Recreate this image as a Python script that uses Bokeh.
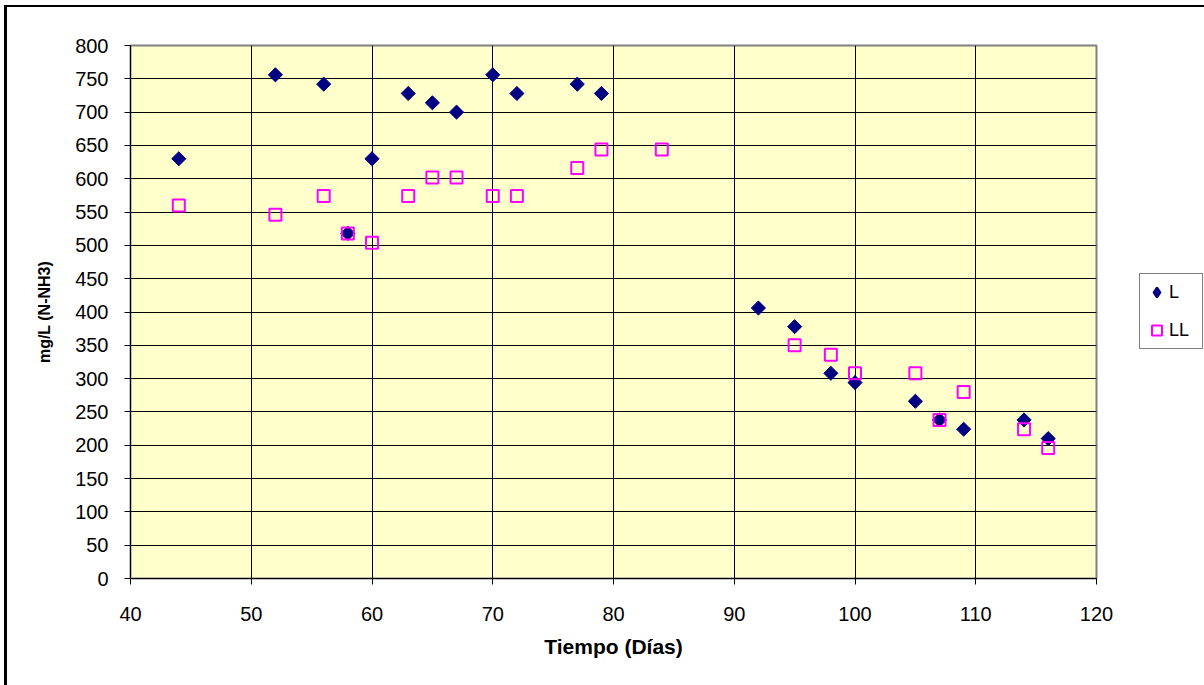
import numpy as np
from bokeh.plotting import figure
from bokeh.layouts import row
from bokeh.models import ColumnDataSource, FixedTicker, Range1d, Legend, LegendItem
from bokeh.embed import file_html
from bokeh.resources import INLINE

# ---- data ----
dias_L = [44, 52, 56, 58, 60, 63, 65, 67, 70, 72, 77, 79, 92, 95, 98, 100, 105, 107, 109, 114, 116]
nh3_L = [630, 756, 742, 518, 630, 728, 714, 700, 756, 728, 742, 728, 406, 378, 308, 294, 266, 238, 224, 238, 210]

dias_LL = [44, 52, 56, 58, 60, 63, 65, 67, 70, 72, 77, 79, 84, 95, 98, 100, 105, 107, 109, 114, 116]
nh3_LL = [560, 546, 574, 518, 504, 574, 602, 602, 574, 574, 616, 644, 644, 350, 336, 308, 308, 238, 280, 224, 196]

x_ticks = [40, 50, 60, 70, 80, 90, 100, 110, 120]
y_ticks = list(range(0, 801, 50))
x_title = "Tiempo (Días)"
y_title = "mg/L (N-NH3)"
series_names = ["L", "LL"]

FONT = "Liberation Sans"
NAVY = "#000080"
MAGENTA = "#FF00FF"

p = figure(width=1128, height=678, output_backend="svg", toolbar_location=None,
           x_range=Range1d(40, 120), y_range=Range1d(0, 800),
           min_border_left=123, min_border_right=39, min_border_top=38, min_border_bottom=107)
p.frame_width = 966
p.frame_height = 533

p.background_fill_color = "#FFFFCC"
p.border_fill_color = "white"
p.outline_line_color = "#808080"
p.outline_line_width = 2

for ax in (p.xaxis[0], p.yaxis[0]):
    ax.axis_line_color = "black"
    ax.axis_line_width = 1
    ax.major_tick_line_color = "black"
    ax.major_tick_in = 0
    ax.major_tick_out = 6
    ax.minor_tick_line_color = None
    ax.major_label_text_font = FONT
    ax.major_label_text_font_size = "20px"
    ax.major_label_text_color = "black"
    ax.axis_label_text_font = FONT
    ax.axis_label_text_font_style = "bold"
    ax.axis_label_text_color = "black"

p.xaxis[0].ticker = FixedTicker(ticks=x_ticks)
p.yaxis[0].ticker = FixedTicker(ticks=y_ticks)
p.xaxis[0].major_label_standoff = 22
p.yaxis[0].major_label_standoff = 16
p.xaxis[0].axis_label = x_title
p.xaxis[0].axis_label_text_font_size = "21px"
p.xaxis[0].axis_label_standoff = 11
p.yaxis[0].axis_label = y_title
p.yaxis[0].axis_label_text_font_size = "16px"
p.yaxis[0].axis_label_standoff = 19

p.xgrid.grid_line_color = "black"
p.xgrid.grid_line_width = 1
p.ygrid.grid_line_color = "black"
p.ygrid.grid_line_width = 1

src_L = ColumnDataSource(dict(x=dias_L, y=nh3_L))
src_LL = ColumnDataSource(dict(x=dias_LL, y=nh3_LL))

style_L = dict(marker="square", size=10, angle=np.pi / 4,
               fill_color=NAVY, line_color=NAVY, line_width=1)
style_LL = dict(marker="square", size=12, fill_color=None, line_color=MAGENTA, line_width=2)

p.scatter("x", "y", source=src_L, **style_L)
p.scatter("x", "y", source=src_LL, **style_LL)

# ---- legend panel (separate narrow figure to the right) ----
q = figure(width=69, height=678, output_backend="svg", toolbar_location=None,
           x_range=Range1d(0, 1), y_range=Range1d(0, 1),
           x_axis_location=None, y_axis_location=None,
           min_border_left=0, min_border_right=0, min_border_top=0, min_border_bottom=0)
q.outline_line_color = None
q.background_fill_color = "white"
q.border_fill_color = "white"
q.xgrid.visible = False
q.ygrid.visible = False
lg_L = q.scatter(x=[-5], y=[-5], marker="diamond", fill_color=NAVY, line_color=NAVY,
                 line_width=2.2)
lg_LL = q.scatter(x=[-5], y=[-5], **style_LL)

legend = Legend(items=[LegendItem(label=series_names[0], renderers=[lg_L]),
                       LegendItem(label=series_names[1], renderers=[lg_LL])],
                location=(4, 229))
legend.label_text_font = FONT
legend.label_text_font_size = "18px"
legend.label_text_color = "black"
legend.padding = 4
legend.spacing = 10
legend.glyph_width = 25
legend.glyph_height = 28
legend.label_height = 28
legend.label_width = 29
legend.label_standoff = 0
legend.margin = 0
legend.border_line_color = "black"
legend.border_line_width = 1
legend.background_fill_color = "white"
legend.background_fill_alpha = 1
q.add_layout(legend, "center")

layout = row(p, q, spacing=0)
layout.styles = {"border-left": "3px solid black", "border-top": "2px solid black",
                 "margin-left": "4px", "margin-top": "5px"}

open("out.html", "w").write(file_html(layout, INLINE))
